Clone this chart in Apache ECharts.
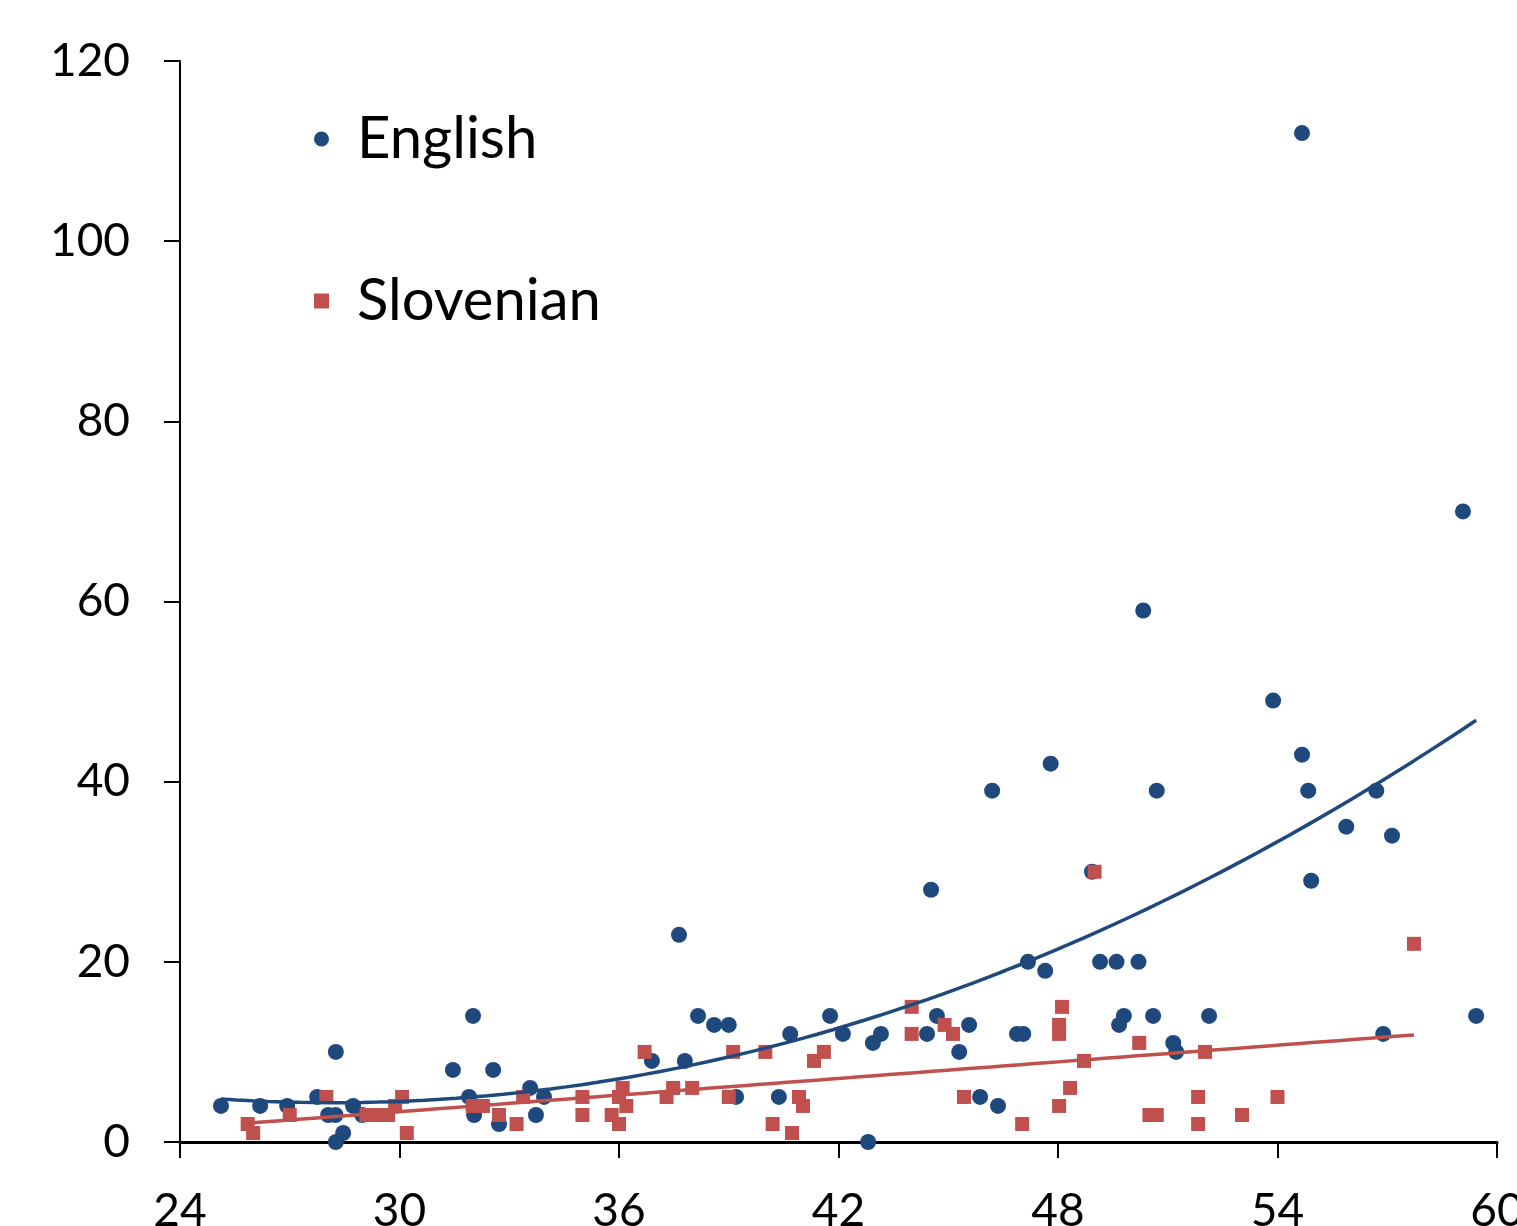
<!DOCTYPE html>
<html><head><meta charset="utf-8">
<script src="https://cdn.jsdelivr.net/npm/echarts@6/dist/echarts.min.js"></script>
<style>html,body{margin:0;padding:0;background:#fff;overflow:hidden}#c{width:1517px;height:1226px}</style>
</head><body><div id="c"></div>
<script>
// ---- data ----
const englishX = [25.12,26.19,26.93,27.75,28.26,28.05,28.25,28.46,28.26,28.73,28.98,31.46,32.01,31.9,32.04,32.56,32.72,33.57,33.95,33.73,36.9,37.64,37.8,38.16,38.6,39.0,39.2,40.37,40.68,41.77,42.12,42.81,42.94,43.16,44.42,44.53,44.69,45.3,45.57,45.87,46.2,46.36,46.88,47.05,47.18,47.65,47.8,48.93,49.15,49.6,49.67,49.8,50.2,50.33,50.6,50.7,51.15,51.23,52.13,53.88,54.67,54.67,54.84,54.92,55.88,56.7,56.89,57.13,59.07,59.43];
const englishY = [4,4,4,5,10,3,3,1,0,4,3,8,14,5,3,8,2,6,5,3,9,23,9,14,13,13,5,5,12,14,12,0,11,12,12,28,14,10,13,5,39,4,12,12,20,19,42,30,20,20,13,14,20,59,14,39,11,10,14,49,43,112,39,29,35,39,12,34,70,14];
const slovenianX = [25.85,26.0,27.0,28.0,29.1,29.4,29.69,29.88,30.07,30.2,32.0,32.28,32.72,33.2,33.38,35.0,35.0,35.8,36.0,36.0,36.1,36.2,36.7,37.3,37.48,38.0,39.0,39.12,40.0,40.2,40.73,40.92,41.03,41.33,41.6,44.0,44.0,44.9,45.13,45.43,47.02,48.03,48.03,48.03,48.11,48.33,48.71,49.0,50.22,50.5,50.7,51.83,51.83,52.02,53.03,54.0,57.73];
const slovenianY = [2,1,3,5,3,3,3,4,5,1,4,4,3,2,5,5,3,3,2,5,6,4,10,5,6,6,5,10,10,2,1,5,4,9,10,15,12,13,12,5,2,4,13,12,15,6,9,30,11,3,3,5,2,10,3,5,22];
const xTickLabels = [24,30,36,42,48,54,60];
const yTickLabels = [0,20,40,60,80,100,120];
const seriesNames = ['English','Slovenian'];

// ---- least squares trendlines computed from the data ----
function polyFit(xs, ys, deg){
  const n = deg+1, A = [], b = [];
  for(let i=0;i<n;i++){A.push(new Array(n).fill(0)); b.push(0);}
  for(let k=0;k<xs.length;k++){
    for(let i=0;i<n;i++){
      b[i] += ys[k]*Math.pow(xs[k],i);
      for(let j=0;j<n;j++) A[i][j] += Math.pow(xs[k],i+j);
    }
  }
  for(let i=0;i<n;i++){
    let p=i; for(let r=i+1;r<n;r++) if(Math.abs(A[r][i])>Math.abs(A[p][i])) p=r;
    [A[i],A[p]]=[A[p],A[i]]; [b[i],b[p]]=[b[p],b[i]];
    for(let r=i+1;r<n;r++){const f=A[r][i]/A[i][i]; for(let c=i;c<n;c++) A[r][c]-=f*A[i][c]; b[r]-=f*b[i];}
  }
  const c = new Array(n).fill(0);
  for(let i=n-1;i>=0;i--){let s=b[i]; for(let j=i+1;j<n;j++) s-=A[i][j]*c[j]; c[i]=s/A[i][i];}
  return c;
}
function trend(xs, ys, deg){
  const c = polyFit(xs, ys, deg);
  const lo = Math.min(...xs), hi = Math.max(...xs), out=[];
  const steps = 80;
  for(let i=0;i<=steps;i++){
    const x = lo + (hi-lo)*i/steps;
    let y=0; for(let j=0;j<c.length;j++) y+=c[j]*Math.pow(x,j);
    out.push([x,y]);
  }
  return out;
}
const zip = (a,b)=>a.map((v,i)=>[v,b[i]]);

const BLUE = '#1F497D', RED = '#C0504D', FONT = 'Lato';
const chart = echarts.init(document.getElementById('c'), null, {renderer:'canvas'});
const legendBase = {
  orient:'vertical', itemWidth:15, itemHeight:15, selectedMode:false, padding:0,
  textStyle:{fontSize:58, fontFamily:FONT, color:'#000', padding:[0,0,0,23]}
};
chart.setOption({
  animation:false,
  backgroundColor:'#fff',
  grid:{left:180, right:20, top:61, bottom:84, containLabel:false, outerBoundsMode:'none'},
  legend:[
    Object.assign({}, legendBase, {left:314, top:110, data:[{name:seriesNames[0], icon:'circle'}]}),
    Object.assign({}, legendBase, {left:314, top:272, data:[{name:seriesNames[1], icon:'rect'}]})
  ],
  xAxis:{
    type:'value', min:xTickLabels[0], max:xTickLabels[xTickLabels.length-1], interval:xTickLabels[1]-xTickLabels[0],
    splitLine:{show:false},
    axisLine:{show:true, onZero:false, lineStyle:{color:'#000', width:3}},
    axisTick:{show:true, inside:false, length:16, lineStyle:{color:'#000', width:2}},
    axisLabel:{fontSize:46, fontFamily:FONT, color:'#000', margin:46, showMaxLabel:true, showMinLabel:true, hideOverlap:false}
  },
  yAxis:{
    type:'value', min:yTickLabels[0], max:yTickLabels[yTickLabels.length-1], interval:yTickLabels[1]-yTickLabels[0],
    splitLine:{show:false},
    axisLine:{show:true, onZero:false, lineStyle:{color:'#000', width:2}},
    axisTick:{show:true, inside:false, length:16, lineStyle:{color:'#000', width:2}},
    axisLabel:{fontSize:46, fontFamily:FONT, color:'#000', margin:50}
  },
  series:[
    {name:seriesNames[0], type:'scatter', symbol:'circle', symbolSize:16, itemStyle:{color:BLUE, opacity:1}, data:zip(englishX, englishY), z:3},
    {name:seriesNames[1], type:'scatter', symbol:'rect', symbolSize:14, itemStyle:{color:RED, opacity:1}, data:zip(slovenianX, slovenianY), z:4},
    {name:'English trend', type:'line', showSymbol:false, smooth:false, lineStyle:{color:BLUE, width:3.5}, data:trend(englishX, englishY, 2), z:5, silent:true},
    {name:'Slovenian trend', type:'line', showSymbol:false, smooth:false, lineStyle:{color:RED, width:3.5}, data:trend(slovenianX, slovenianY, 1), z:5, silent:true}
  ]
});
</script></body></html>
